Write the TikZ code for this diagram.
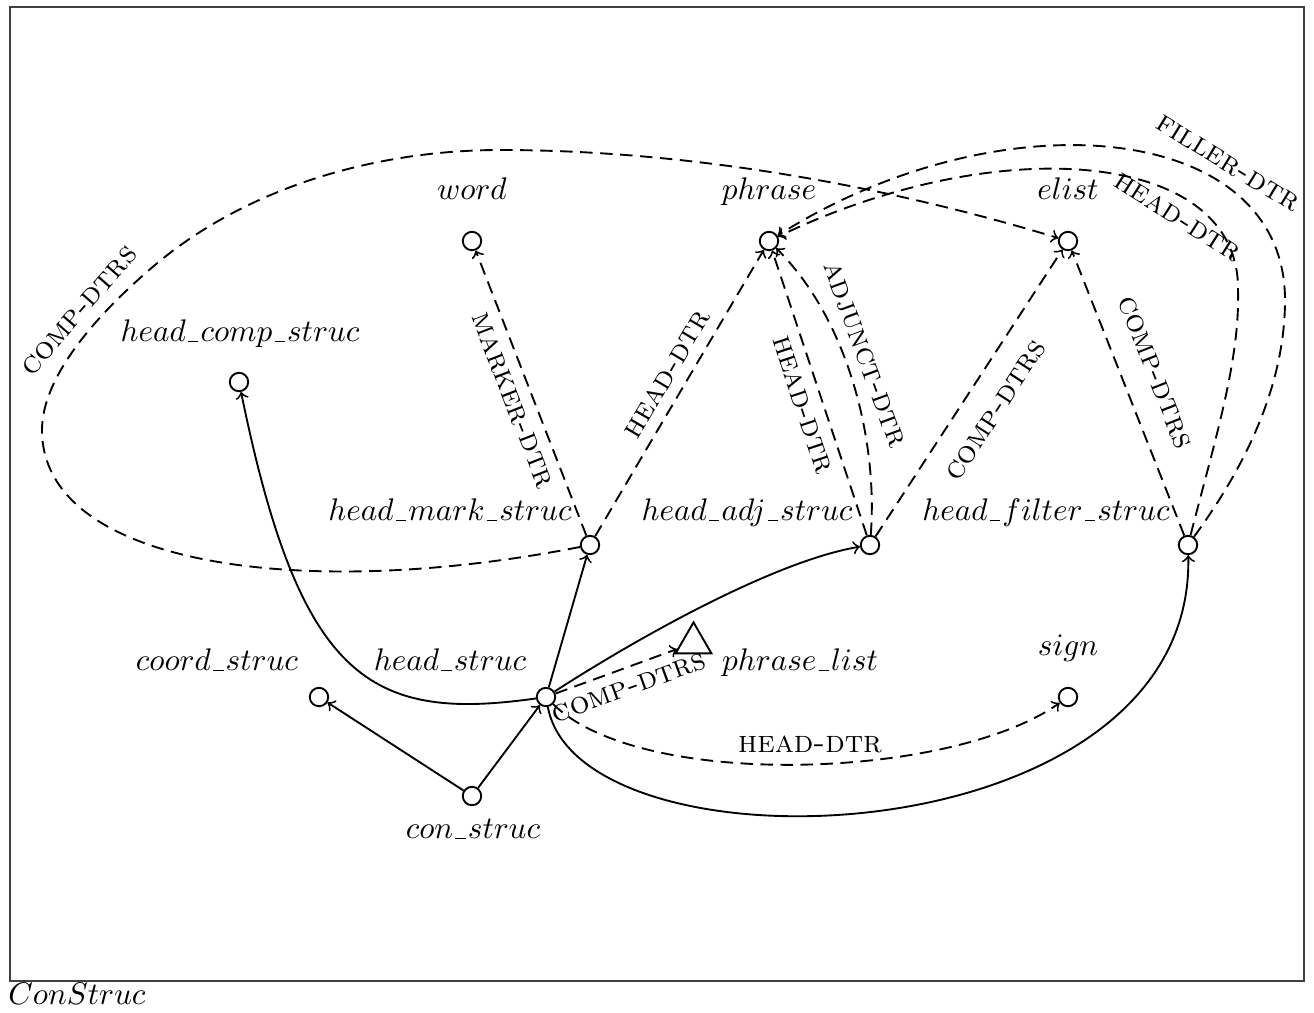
\documentclass[tikz,border=0pt]{standalone}
\usetikzlibrary{shapes.geometric}
% low rule used inside the type names
\newcommand\us{\mbox{\kern0.07em\rule[-0.4pt]{0.33em}{0.42pt}\kern0.07em}}
\begin{document}
\begin{tikzpicture}[x=0.32pt,y=-0.32pt,
  dot/.style={circle,draw,semithick,inner sep=0pt,minimum size=5.9pt},
  tri/.style={regular polygon,regular polygon sides=3,draw,semithick,inner sep=0pt,minimum size=13.2pt},
  typ/.style={anchor=base,inner sep=0pt},
  feat/.style={font=\scshape,sloped},
  isa/.style={->,semithick},
  attr/.style={->,semithick,dash pattern=on 4pt off 2.4pt}]
\useasboundingbox (0,0) rectangle (1314,1012);
\draw[line width=0.4pt,black!75] (10,7) rectangle (1304,981);

% type nodes
\node[dot] (word)   at (472,241) {};
\node[dot] (phrase) at (769,241) {};
\node[dot] (elist)  at (1068,241) {};
\node[dot] (hcs)    at (239,382) {};
\node[dot] (hms)    at (590,545) {};
\node[dot] (has)    at (870,545) {};
\node[dot] (hfs)    at (1188,545) {};
\node[dot] (coord)  at (319,697) {};
\node[dot] (hs)     at (546,697) {};
\node[dot] (sign)   at (1068,697) {};
\node[dot] (con)    at (472,796) {};
\node[tri] (plist)  at (693.5,643) {};

% type names
\node[typ] (word-l)   at (472,199) {$word$};
\node[typ] (phrase-l) at (769,199) {$phrase$};
\node[typ] (elist-l)  at (1068,199) {$elist$};
\node[typ] (hcs-l)    at (240,341) {$head\us comp\us struc$};
\node[typ] (hms-l)    at (450,520) {$head\us mark\us struc$};
\node[typ] (has-l)    at (747,520) {$head\us adj\us struc$};
\node[typ] (hfs-l)    at (1046,520) {$head\us filter\us struc$};
\node[typ] (coord-l)  at (217,670) {$coord\us struc$};
\node[typ] (hs-l)     at (450,670) {$head\us struc$};
\node[typ] (plist-l)  at (800,670) {$phrase\us list$};
\node[typ] (sign-l)   at (1068,655) {$sign$};
\node[typ] (con-l)    at (473,838) {$con\us struc$};
\node[typ] (title)    at (77,1004) {$ConStruc$};

% subtype links
\draw[isa] (con) -- (coord);
\draw[isa] (con) -- (hs);
\draw[isa] (hs) .. controls (370,722) and (300,680) .. (hcs);
\draw[isa] (hs) -- (hms);
\draw[isa] (hs) .. controls (650,630) and (780,560) .. (has);
\draw[isa] (hs) .. controls (580,880) and (1195,860) .. (hfs);

% features
\draw[attr] (hs) -- node[feat,below,pos=0.55] {comp-dtrs} (plist);
\draw[attr] (hs) .. controls (640,790) and (950,780) .. node[font=\scshape,above,pos=0.52] {head-dtr} (sign);
\draw[attr] (hms) -- node[feat,below] {marker-dtr} (word);
\draw[attr] (hms) -- node[feat,above,pos=0.53] {head-dtr} (phrase);
\draw[attr] (hms) .. controls (300,602) and (42,565) .. (42,430)
  .. controls (42,380) and (90,320) .. node[feat,above,pos=0.65] {comp-dtrs} (155,265)
  .. controls (250,185) and (380,150) .. (500,150)
  .. controls (700,150) and (900,190) .. (elist);
\draw[attr] (has) -- node[feat,below,pos=0.48] {head-dtr} (phrase);
\draw[attr] (has) .. controls (878,440) and (848,320) .. node[feat,above,pos=0.57] {adjunct-dtr} (phrase);
\draw[attr] (has) -- node[feat,below=4pt,pos=0.5] {comp-dtrs} (elist);
\draw[attr] (hfs) -- node[feat,above=4pt,pos=0.53] {comp-dtrs} (elist);
\draw[attr] (hfs) .. controls (1215,440) and (1240,360) .. (1238,290)
  .. controls (1240,150) and (1000,130) .. node[feat,below,pos=0.28] {head-dtr} (phrase);
\draw[attr] (hfs) .. controls (1250,460) and (1285,380) .. (1285,300)
  .. controls (1285,120) and (1000,95) .. node[feat,above,pos=0.3] {filler-dtr} (phrase);
\end{tikzpicture}
\end{document}
